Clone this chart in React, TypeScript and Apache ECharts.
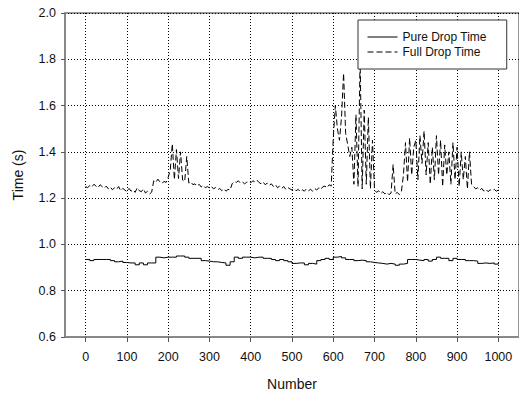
import React, { useEffect, useRef } from "react";
import * as echarts from "echarts";

const xTickValues = [0, 100, 200, 300, 400, 500, 600, 700, 800, 900, 1000];
const seriesNames = ["Pure Drop Time", "Full Drop Time"];

// Pure drop time, sampled every 10 numbers (0..1000)
const pureNumbers = Array.from({ length: 101 }, (_, i) => i * 10);
const pureTime = [
  0.935, 0.93, 0.935, 0.935, 0.935, 0.935, 0.93, 0.925, 0.928, 0.922,
  0.92, 0.92, 0.912, 0.92, 0.912, 0.92, 0.92, 0.945, 0.942, 0.945,
  0.945, 0.945, 0.95, 0.95, 0.945, 0.94, 0.94, 0.94, 0.93, 0.928,
  0.925, 0.925, 0.922, 0.92, 0.91, 0.925, 0.945, 0.94, 0.945, 0.945,
  0.942, 0.945, 0.945, 0.94, 0.94, 0.935, 0.93, 0.935, 0.93, 0.925,
  0.918, 0.92, 0.92, 0.912, 0.918, 0.915, 0.93, 0.935, 0.94, 0.935,
  0.945, 0.948, 0.942, 0.935, 0.935, 0.93, 0.932, 0.93, 0.925, 0.922,
  0.92, 0.918, 0.915, 0.918, 0.915, 0.91, 0.915, 0.918, 0.935, 0.935,
  0.932, 0.93, 0.935, 0.928, 0.935, 0.945, 0.94, 0.94, 0.93, 0.94,
  0.935, 0.935, 0.93, 0.93, 0.928, 0.918, 0.92, 0.918, 0.92, 0.915,
  0.92,
];

// Full drop time, sampled every 5 numbers (0..1000)
const fullNumbers = Array.from({ length: 201 }, (_, i) => i * 5);
const fullTime = [
  1.25, 1.245, 1.255, 1.248, 1.26, 1.252, 1.245, 1.258, 1.25, 1.243, 1.252, 1.24, 1.248, 1.236, 1.245, 1.238, 1.25, 1.232, 1.242, 1.235,
  1.228, 1.242, 1.23, 1.236, 1.225, 1.245, 1.232, 1.228, 1.24, 1.222, 1.23, 1.218, 1.226, 1.275, 1.268, 1.282, 1.27, 1.265, 1.272, 1.268,
  1.29, 1.32, 1.435, 1.28, 1.41, 1.285, 1.4, 1.278, 1.272, 1.38, 1.265, 1.27, 1.258, 1.262, 1.252, 1.26, 1.248, 1.255, 1.245, 1.25,
  1.244, 1.25, 1.24, 1.246, 1.236, 1.242, 1.232, 1.24, 1.23, 1.238, 1.235, 1.262, 1.272, 1.268, 1.275, 1.265, 1.27, 1.262, 1.268, 1.272,
  1.266, 1.275, 1.27, 1.278, 1.268, 1.262, 1.27, 1.258, 1.265, 1.255, 1.262, 1.25, 1.258, 1.245, 1.252, 1.242, 1.25, 1.238, 1.246, 1.24,
  1.235, 1.242, 1.232, 1.238, 1.228, 1.236, 1.23, 1.24, 1.232, 1.238, 1.23, 1.242, 1.235, 1.245, 1.238, 1.25, 1.252, 1.245, 1.258, 1.252,
  1.46, 1.6, 1.5, 1.45, 1.55, 1.74, 1.48, 1.43, 1.38, 1.42, 1.26, 1.56, 1.25, 1.8, 1.24, 1.58, 1.26, 1.55, 1.24, 1.45,
  1.235, 1.225, 1.232, 1.22, 1.228, 1.218, 1.225, 1.215, 1.222, 1.345, 1.218, 1.225, 1.215, 1.228, 1.3, 1.44, 1.27, 1.46, 1.3, 1.42,
  1.45, 1.28, 1.47, 1.35, 1.49, 1.3, 1.44, 1.26, 1.42, 1.28, 1.47, 1.3, 1.45, 1.25, 1.43, 1.3, 1.4, 1.26, 1.44, 1.28,
  1.42, 1.25, 1.4, 1.28, 1.38, 1.24, 1.4, 1.26, 1.25, 1.24, 1.245, 1.235, 1.242, 1.23, 1.238, 1.228, 1.236, 1.232, 1.238, 1.23, 1.235,
];

const FONT = "'Liberation Sans', Arial, sans-serif";

export default function App() {
  const ref = useRef<HTMLDivElement>(null);
  useEffect(() => {
    if (!ref.current) return;
    const chart = echarts.init(ref.current, undefined, { renderer: "svg" });
    chart.setOption({
      animation: false,
      backgroundColor: "#fff",
      textStyle: { fontFamily: FONT },
      grid: {
        left: 65,
        top: 13,
        right: -3,
        bottom: 55,
        show: true,
        borderColor: "#333",
        borderWidth: 1,
      },
      legend: {
        data: seriesNames,
        orient: "vertical",
        left: 358,
        top: 20,
        itemWidth: 30,
        itemHeight: 14,
        itemGap: 3,
        padding: [11, 20, 11, 9],
        backgroundColor: "#fff",
        borderColor: "#333",
        borderWidth: 1,
        borderRadius: 0,
        itemStyle: { opacity: 0 },
        lineStyle: { width: 1 },
        textStyle: { fontFamily: FONT, fontSize: 12, color: "#111" },
      },
      xAxis: {
        type: "value",
        min: -50,
        max: 1050,
        name: "Number",
        nameLocation: "middle",
        nameGap: 40,
        nameTextStyle: { fontFamily: FONT, fontSize: 14, color: "#111" },
        axisLine: { show: true, onZero: false, lineStyle: { color: "#888", width: 2 } },
        axisTick: { show: true, length: 5, customValues: xTickValues, lineStyle: { color: "#555" } },
        axisLabel: {
          customValues: xTickValues,
          margin: 13,
          fontFamily: FONT,
          fontSize: 12.5,
          color: "#111",
          formatter: (v: number) => String(v),
        },
        splitLine: { show: true, lineStyle: { color: "#000", type: [1, 2], width: 1 } },
      },
      yAxis: {
        type: "value",
        min: 0.6,
        max: 2.0,
        interval: 0.2,
        name: "Time (s)",
        nameLocation: "middle",
        nameGap: 40,
        nameTextStyle: { fontFamily: FONT, fontSize: 14, color: "#111" },
        axisLine: { show: true, onZero: false, lineStyle: { color: "#888", width: 2 } },
        axisTick: { show: true, length: 4, lineStyle: { color: "#555" } },
        axisLabel: {
          margin: 9,
          fontFamily: FONT,
          fontSize: 12.5,
          color: "#111",
          formatter: (v: number) => v.toFixed(1),
        },
        splitLine: { show: true, lineStyle: { color: "#000", type: [1, 2], width: 1 } },
      },
      series: [
        {
          name: seriesNames[0],
          type: "line",
          step: "end",
          symbol: "none",
          showSymbol: false,
          data: pureNumbers.map((x, i) => [x, pureTime[i]]),
          lineStyle: { color: "#000", width: 1, type: "solid" },
          itemStyle: { color: "#000" },
        },
        {
          name: seriesNames[1],
          type: "line",
          symbol: "none",
          showSymbol: false,
          data: fullNumbers.map((x, i) => [x, fullTime[i]]),
          lineStyle: { color: "#000", width: 1, type: [6, 3] },
          itemStyle: { color: "#000" },
        },
      ],
    });
    return () => chart.dispose();
  }, []);
  return (
    <div
      ref={ref}
      style={{ position: "absolute", left: 0, top: 0, width: 519, height: 396, background: "#fff" }}
    />
  );
}
